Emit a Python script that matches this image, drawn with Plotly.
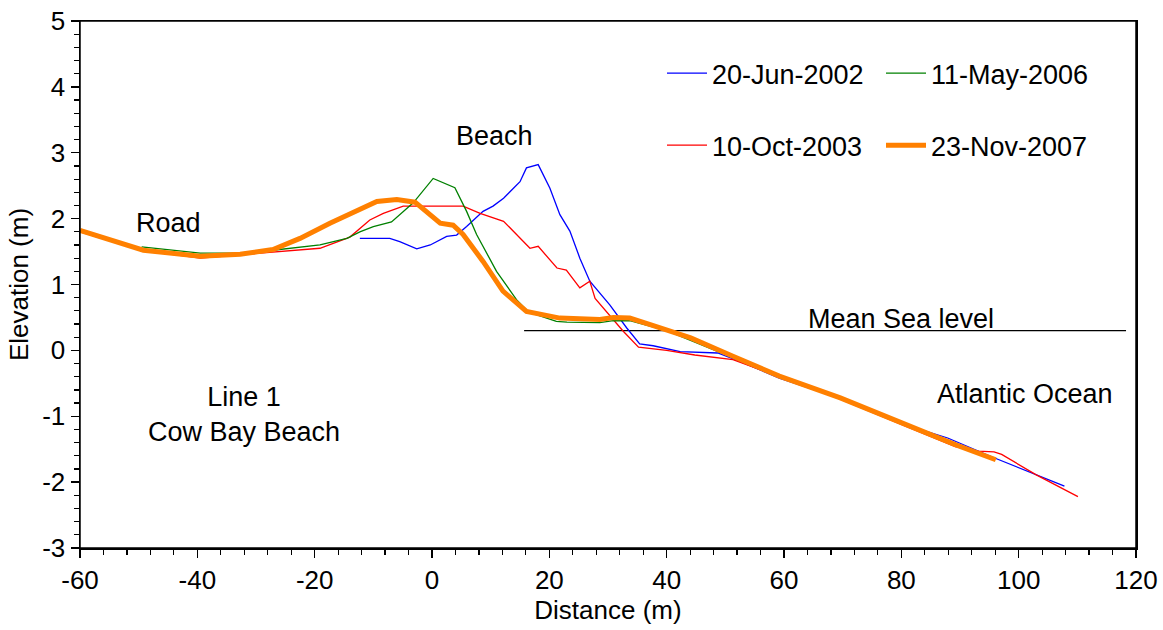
import plotly.graph_objects as go

# ---- data ----
jun2002_x = [-12.3, -7.2, -5.5, -2.6, -0.3, 1.4, 2.5, 4.2, 5.9, 8.7, 10.4, 12.2, 15.0, 16.1, 18.1, 20.1,
             21.8, 23.5, 25.2, 26.9, 30.3, 33.2, 35.4, 37.7, 42.3, 48.7, 52.6, 59.2, 69.6, 80.7, 87.9, 95.8, 107.8]
jun2002_y = [1.70, 1.70, 1.65, 1.54, 1.60, 1.68, 1.73, 1.75, 1.88, 2.11, 2.19, 2.31, 2.56, 2.77, 2.82, 2.46,
             2.06, 1.81, 1.40, 1.05, 0.69, 0.34, 0.10, 0.07, -0.02, -0.04, -0.17, -0.42, -0.73, -1.13, -1.33, -1.63, -2.06]

oct2003_x = [-60, -49.5, -39.5, -32.7, -27.1, -19.1, -14.0, -10.6, -8.3, -4.9, 0.2, 5.3, 8.2, 12.2, 16.7, 18.1,
             21.3, 22.9, 25.2, 26.9, 27.8, 32.6, 35.2, 40.0, 44.8, 51.3, 59.2, 69.6, 80.7, 89.2, 93.1, 95.8,
             97.1, 103.0, 110.1]
oct2003_y = [1.80, 1.52, 1.40, 1.45, 1.50, 1.55, 1.72, 1.98, 2.08, 2.19, 2.19, 2.19, 2.08, 1.96, 1.55, 1.58,
             1.25, 1.22, 0.95, 1.05, 0.79, 0.29, 0.05, 0.0, -0.07, -0.14, -0.40, -0.74, -1.15, -1.46, -1.53, -1.54,
             -1.58, -1.89, -2.22]

may2006_x = [-49.5, -39.5, -32.7, -27.1, -19.1, -14.5, -12.3, -10.0, -6.9, -3.2, 0.2, 3.9, 5.9, 7.6, 11.0,
             14.4, 16.5, 21.2, 23.0, 28.6, 30.9, 33.7, 40.0, 47.4, 49.3]
may2006_y = [1.57, 1.475, 1.48, 1.52, 1.60, 1.70, 1.80, 1.88, 1.95, 2.24, 2.61, 2.47, 2.11, 1.76, 1.20,
             0.77, 0.58, 0.44, 0.43, 0.42, 0.45, 0.45, 0.30, 0.02, -0.04]

nov2007_x = [-60, -49.2, -39.5, -32.7, -27.1, -22.5, -17.4, -12.3, -9.4, -6.0, -2.9, 1.4, 3.6, 5.3, 8.7,
             12.1, 16.1, 21.8, 28.6, 30.9, 33.7, 37.2, 39.5, 44.1, 51.3, 59.2, 69.6, 80.7, 89.2, 96.1]
nov2007_y = [1.82, 1.52, 1.43, 1.46, 1.53, 1.70, 1.93, 2.13, 2.26, 2.29, 2.25, 1.93, 1.90, 1.76, 1.35,
             0.90, 0.59, 0.49, 0.47, 0.50, 0.49, 0.39, 0.32, 0.19, -0.09, -0.39, -0.72, -1.13, -1.43, -1.66]

msl_x = [15.7, 118.3]
msl_y = [0.30, 0.30]

x_tickvals = [-60, -40, -20, 0, 20, 40, 60, 80, 100, 120]
x_ticktext = ["-60", "-40", "-20", "0", "20", "40", "60", "80", "100", "120"]
y_tickvals = [-3, -2, -1, 0, 1, 2, 3, 4, 5]
y_ticktext = ["-3", "-2", "-1", "0", "1", "2", "3", "4", "5"]

FONT = "Liberation Sans, Arial, sans-serif"

fig = go.Figure()

fig.add_trace(go.Scatter(x=msl_x, y=msl_y, mode="lines", line=dict(color="black", width=1.3),
                         showlegend=False, hoverinfo="skip"))

fig.add_trace(go.Scatter(x=jun2002_x, y=jun2002_y, mode="lines", name="20-Jun-2002",
                         line=dict(color="#0000FF", width=1.3), legend="legend", legendgroup="a"))
fig.add_trace(go.Scatter(x=oct2003_x, y=oct2003_y, mode="lines", name="10-Oct-2003",
                         line=dict(color="#FF0000", width=1.3), legend="legend", legendgroup="b"))
fig.add_trace(go.Scatter(x=may2006_x, y=may2006_y, mode="lines", name="11-May-2006",
                         line=dict(color="#008000", width=1.3), legend="legend2", legendgroup="c"))
fig.add_trace(go.Scatter(x=nov2007_x, y=nov2007_y, mode="lines", name="23-Nov-2007",
                         line=dict(color="#FF8000", width=5), legend="legend2", legendgroup="d"))

annots = [
    dict(x=-45, y=1.93, text="Road"),
    dict(x=10.7, y=3.26, text="Beach"),
    dict(x=80, y=0.47, text="Mean Sea level"),
    dict(x=101, y=-0.66, text="Atlantic Ocean"),
    dict(x=-32, y=-0.98, text="Line 1<br>Cow Bay Beach"),
]
for a in annots:
    fig.add_annotation(x=a["x"], y=a["y"], text=a["text"], showarrow=False,
                       xanchor="center", yanchor="middle",
                       font=dict(family=FONT, size=27, color="black"))

# plot frame (top and right borders)
fig.add_shape(type="rect", xref="paper", yref="paper", x0=0, x1=1, y0=0, y1=1,
              line=dict(color="black", width=1.5), fillcolor="rgba(0,0,0,0)", layer="above")

axis_common = dict(
    showline=True, linecolor="black", linewidth=1.5, mirror=True,
    ticks="outside", ticklen=8, tickwidth=1.3, tickcolor="black",
    showgrid=False, zeroline=False, automargin=False, ticklabeloverflow="allow",
    tickfont=dict(family=FONT, size=26, color="black"),
)

fig.update_xaxes(range=[-60, 120], tickmode="array", tickvals=x_tickvals, ticktext=x_ticktext,
                 minor=dict(tickmode="linear", tick0=0, dtick=4, ticks="outside", ticklen=5,
                            tickcolor="black", tickwidth=1.2, showgrid=False),
                 title=dict(text="Distance (m)", font=dict(family=FONT, size=26, color="black"), standoff=0),
                 **axis_common)
fig.update_yaxes(range=[-3, 5], tickmode="array", tickvals=y_tickvals, ticktext=y_ticktext,
                 minor=dict(tickmode="linear", tick0=0, dtick=0.2, ticks="outside", ticklen=5,
                            tickcolor="black", tickwidth=1.2, showgrid=False),
                 title=dict(text="Elevation (m)", font=dict(family=FONT, size=26, color="black"), standoff=6),
                 **axis_common)

legend_common = dict(
    xanchor="left", yanchor="top", orientation="v",
    font=dict(family=FONT, size=27, color="black"),
    bgcolor="rgba(0,0,0,0)", borderwidth=0, tracegroupgap=34, itemwidth=40,
)
fig.update_layout(
    width=1163, height=630,
    margin=dict(l=80, r=27, t=21, b=82),
    paper_bgcolor="white", plot_bgcolor="white",
    showlegend=True, hovermode=False,
    legend=dict(x=(662 - 80) / 1056, y=(548 - 49) / 527, **legend_common),
    legend2=dict(x=(881 - 80) / 1056, y=(548 - 49) / 527, **legend_common),
)

# remove the browser's default 8px body margin so the figure sits at (0, 0)
fig.write_html("out.html",
               config=dict(displayModeBar=False, staticPlot=True),
               post_script="document.body.style.margin='0';document.body.style.overflow='hidden';")
